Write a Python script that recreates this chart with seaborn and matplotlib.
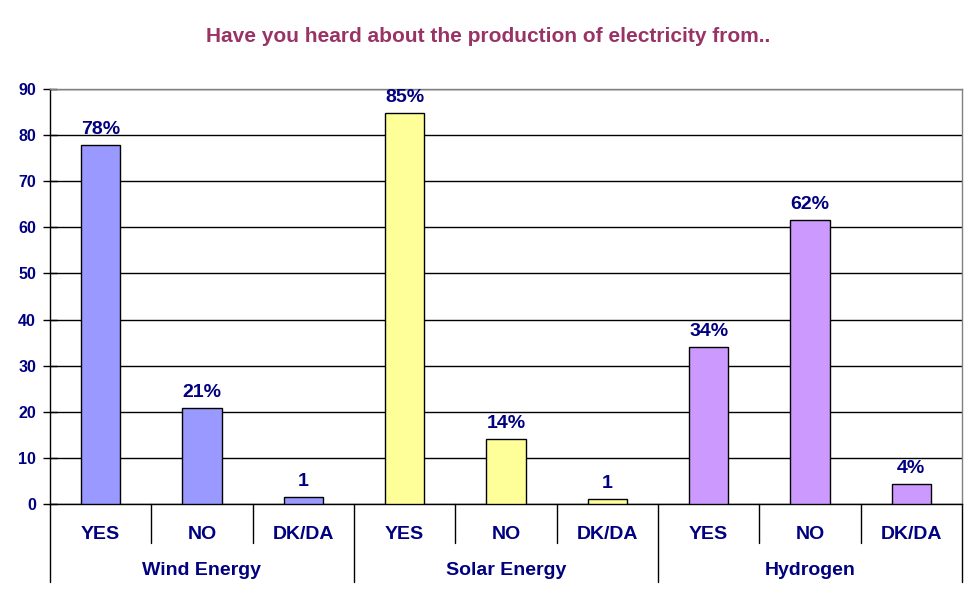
import matplotlib
matplotlib.use("Agg")
import matplotlib.pyplot as plt
import seaborn as sns
import pandas as pd
from matplotlib.lines import Line2D

# data
groups = ["Wind Energy", "Solar Energy", "Hydrogen"]
answers = ["YES", "NO", "DK/DA"]
wind = [77.8, 20.8, 1.5]
solar = [84.8, 14.1, 1.1]
hydrogen = [34.1, 61.6, 4.3]
bar_labels = ["78%", "21%", "1", "85%", "14%", "1", "34%", "62%", "4%"]
colors = ["#9999FF", "#FFFF99", "#CC99FF"]

rows = []
for g, vals in zip(groups, [wind, solar, hydrogen]):
    for a, v in zip(answers, vals):
        rows.append({"key": f"{g}|{a}", "group": g, "answer": a, "value": v})
df = pd.DataFrame(rows)

navy = "#000080"
sns.set_theme(style="white")
plt.rcParams["font.family"] = ["Liberation Sans", "DejaVu Sans"]
plt.rcParams["font.weight"] = "bold"

fig = plt.figure(figsize=(9.77, 6.01), dpi=100)
ax = fig.add_axes([50 / 977, 97 / 601, 912 / 977, 415 / 601])

sns.barplot(data=df, x="key", y="value", hue="group", palette=colors,
            saturation=1, dodge=False, width=0.39, edgecolor="black",
            linewidth=1, legend=False, ax=ax, zorder=3)

ax.set_ylim(0, 90)
ax.set_xlim(-0.5, len(df) - 0.5)
ax.set_yticks(range(0, 91, 10))
ax.yaxis.grid(True, color="black", linewidth=1)
ax.set_axisbelow(True)
ax.set_xlabel("")
ax.set_ylabel("")

for s in ["top", "right"]:
    ax.spines[s].set_color("#808080")
ax.spines["left"].set_color("black")
ax.spines["bottom"].set_color("black")
for s in ax.spines.values():
    s.set_linewidth(1)

ax.tick_params(axis="y", direction="inout", length=10, width=1, color="black",
               labelsize=11.5, labelcolor=navy, left=True, pad=5)
ax.set_xticks(range(len(df)))
ax.set_xticklabels(df["answer"], fontsize=14, fontweight="bold", color=navy)
ax.tick_params(axis="x", length=0, pad=16)
for t in ax.get_yticklabels():
    t.set_fontweight("bold")

for c, cont in enumerate(ax.containers):
    ax.bar_label(cont, labels=bar_labels[c * 3:(c + 1) * 3], padding=5,
                 fontsize=14, fontweight="bold", color=navy)

# category separators below the axis
trans = ax.get_xaxis_transform()
for i in range(len(df) + 1):
    x = i - 0.5
    depth = -0.188 if i % 3 == 0 else -0.094
    ax.add_line(Line2D([x, x], [0, depth], transform=trans, color="black",
                       linewidth=1, clip_on=False))

for gi, g in enumerate(groups):
    ax.text(gi * 3 + 1, -0.161, g, transform=trans, ha="center", va="center",
            fontsize=14, fontweight="bold", color=navy)

fig.text(0.5, 1 - 37 / 601, "Have you heard about the production of electricity from..",
         ha="center", va="center", fontsize=15, fontweight="bold", color="#993366")

fig.savefig("out.png", dpi=100)
